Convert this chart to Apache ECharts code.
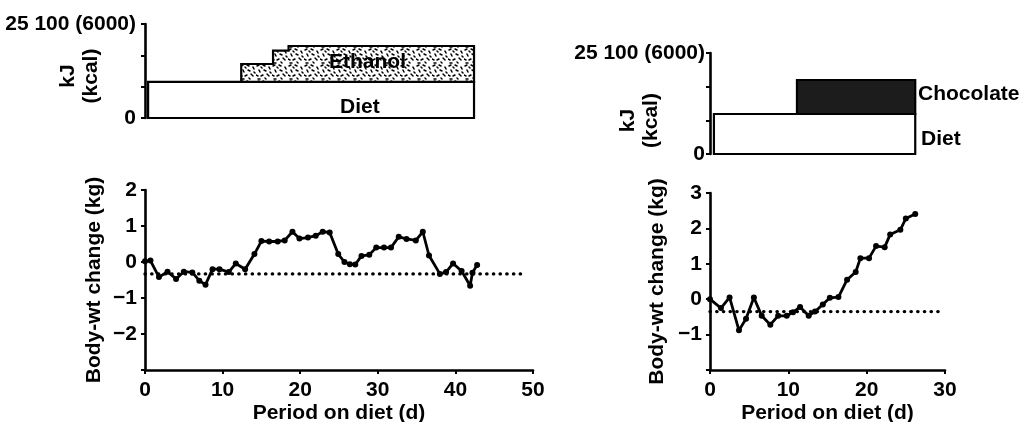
<!DOCTYPE html>
<html>
<head>
<meta charset="utf-8">
<script src="https://cdn.jsdelivr.net/npm/echarts@6/dist/echarts.min.js"></script>
<style>
html,body{margin:0;padding:0;background:#fff;}
#chart{width:1025px;height:422px;}
</style>
</head>
<body>
<div id="chart"></div>
<script>
// ---------- data ----------
// Left: ethanol experiment
const leftDietDays = [0.4, 42.4];            // diet box start/end (d)
const leftDietKcal = 2300;                    // diet energy (kcal)
const leftEthanolStepDays = [12.4, 16.5, 18.5];
const leftEthanolTopKcal = [3447, 4296, 4596];
const leftWeight = [
  [0, 0.02], [0.7, 0.04], [1.8, -0.42], [2.9, -0.27], [4.0, -0.47], [5.0, -0.27],
  [6.1, -0.29], [7.0, -0.52], [7.8, -0.63], [8.7, -0.2], [9.6, -0.2], [10.8, -0.28],
  [11.7, -0.04], [12.9, -0.2], [14.1, 0.22], [15.0, 0.58], [16.0, 0.57], [17.1, 0.57],
  [18.0, 0.6], [19.0, 0.84], [19.9, 0.65], [21.0, 0.68], [22.0, 0.73], [22.9, 0.84],
  [23.8, 0.82], [24.9, 0.22], [25.7, 0.0], [26.4, -0.06], [27.1, -0.07], [27.9, 0.17],
  [28.9, 0.2], [29.8, 0.4], [30.8, 0.4], [31.7, 0.4], [32.7, 0.7], [33.7, 0.64],
  [34.9, 0.6], [35.8, 0.84], [36.6, 0.18], [38.0, -0.33], [38.8, -0.28], [39.7, -0.04],
  [40.8, -0.25], [41.9, -0.66], [42.2, -0.3], [42.8, -0.08]
];
const leftBaseline = -0.33;
const leftBaselineDays = [0, 48.5];

// Right: chocolate experiment
const rightDietDays = [0.5, 26.2];
const rightDietKcal = 2376;
const rightChocStartDay = 11.1;
const rightChocTopKcal = 4396;
const rightWeight = [
  [0, 0.0], [1.4, -0.25], [2.5, 0.05], [3.7, -0.88], [4.6, -0.55], [5.6, 0.05],
  [6.6, -0.47], [7.7, -0.72], [8.7, -0.47], [9.8, -0.47], [10.6, -0.37], [11.5, -0.22],
  [12.6, -0.47], [13.4, -0.35], [14.4, -0.15], [15.3, 0.04], [16.4, 0.06], [17.5, 0.55],
  [18.6, 0.77], [19.2, 1.16], [20.3, 1.16], [21.2, 1.5], [22.3, 1.47], [23.0, 1.83],
  [24.3, 1.96], [25.0, 2.28], [26.2, 2.41]
];
const rightBaseline = -0.35;
const rightBaselineDays = [0, 29.7];

// axis / tick text
const energyTopLabel = '25 100 (6000)';
const energyMaxKcal = 6000;
const energyName = 'kJ\n(kcal)';
const weightName = 'Body-wt change (kg)';
const dayName = 'Period on diet (d)';

// ---------- styles ----------
const FONT = 'Liberation Sans';
const txt = {color: '#000', fontFamily: FONT, fontWeight: 'bold', fontSize: 21};

function makeSpeckle() {
  const c = document.createElement('canvas');
  c.width = 16; c.height = 16;
  const g = c.getContext('2d');
  g.fillStyle = '#fff'; g.fillRect(0, 0, 16, 16);
  g.strokeStyle = '#000'; g.lineWidth = 1.5; g.lineCap = 'round';
  const m = [[1,2,3,1],[7,1,9,2],[13,3,14,5],[3,6,4,8],[8,6,10,7],[0,11,2,12],
             [5,12,7,11],[11,10,13,12],[5,3,6,4],[14,8,15,9],[2,15,4,15],[9,14,10,15]];
  m.forEach(s => { g.beginPath(); g.moveTo(s[0], s[1]); g.lineTo(s[2], s[3]); g.stroke(); });
  return c;
}
const speckle = {image: makeSpeckle(), repeat: 'repeat'};

function polySeries(xi, yi, pts, fill) {
  return {
    type: 'custom', xAxisIndex: xi, yAxisIndex: yi, silent: true, z: 2,
    data: [[pts[0][0], pts[0][1]]],
    renderItem: (params, api) => ({
      type: 'polygon',
      shape: {points: pts.map(p => api.coord(p))},
      style: {fill: fill, stroke: '#000', lineWidth: 2.2}
    })
  };
}

// polygons from data
const leftDietPts = [[leftDietDays[0], 0], [leftDietDays[0], leftDietKcal],
                     [leftDietDays[1], leftDietKcal], [leftDietDays[1], 0]];
const leftEthPts = [[leftEthanolStepDays[0], leftDietKcal]];
leftEthanolStepDays.forEach((d, i) => {
  if (i > 0) leftEthPts.push([d, leftEthanolTopKcal[i - 1]]);
  leftEthPts.push([d, leftEthanolTopKcal[i]]);
});
leftEthPts.push([leftDietDays[1], leftEthanolTopKcal[leftEthanolTopKcal.length - 1]]);
leftEthPts.push([leftDietDays[1], leftDietKcal]);

const rightDietPts = [[rightDietDays[0], 0], [rightDietDays[0], rightDietKcal],
                      [rightDietDays[1], rightDietKcal], [rightDietDays[1], 0]];
const rightChocPts = [[rightChocStartDay, rightDietKcal], [rightChocStartDay, rightChocTopKcal],
                      [rightDietDays[1], rightChocTopKcal], [rightDietDays[1], rightDietKcal]];

const axisLineY = {show: true, onZero: false, lineStyle: {color: '#000', width: 2.6}};
const axisLineX = {show: true, onZero: false, lineStyle: {color: '#000', width: 2.6}};
const axisTick = {show: true, inside: false, length: 4, lineStyle: {color: '#000', width: 2}};

function energyY(gi, margin, pad) {
  return {
    type: 'value', gridIndex: gi, min: 0, max: energyMaxKcal, interval: 2000,
    axisLine: axisLineY, axisTick, splitLine: {show: false},
    axisLabel: Object.assign({}, txt, {margin: margin,
      formatter: v => v === 0 ? '0' : (v === energyMaxKcal ? energyTopLabel : '')}),
    name: energyName, nameLocation: 'middle', nameGap: pad[0], nameRotate: 90,
    nameMoveOverlap: false,
    nameTextStyle: Object.assign({}, txt, {lineHeight: 23, padding: [0, pad[1], 0, 0]})
  };
}
function weightY(gi, min, max, gap) {
  return {
    type: 'value', gridIndex: gi, min: min, max: max, interval: 1,
    axisLine: axisLineY, axisTick, splitLine: {show: false},
    axisLabel: Object.assign({}, txt, {margin: 8,
      formatter: v => v === min ? '' : (v < 0 ? '\u2212' + Math.abs(v) : String(v))}),
    name: weightName, nameLocation: 'middle', nameGap: gap, nameRotate: 90,
    nameMoveOverlap: false,
    nameTextStyle: txt
  };
}
function dayX(gi, max, show) {
  return {
    type: 'value', gridIndex: gi, min: 0, max: max, interval: 10, show: show,
    axisLine: axisLineX, axisTick, splitLine: {show: false},
    axisLabel: Object.assign({}, txt, {margin: 10}),
    name: show ? dayName : '', nameLocation: 'middle', nameGap: 33,
    nameMoveOverlap: false,
    nameTextStyle: txt
  };
}
function weightSeries(xi, yi, data) {
  return {
    type: 'line', xAxisIndex: xi, yAxisIndex: yi, data: data, z: 3,
    symbol: 'circle', symbolSize: 6, showSymbol: true,
    itemStyle: {color: '#000'}, lineStyle: {color: '#000', width: 2.8},
    silent: true
  };
}
function baselineSeries(xi, yi, days, v) {
  return {
    type: 'line', xAxisIndex: xi, yAxisIndex: yi, z: 2,
    data: days.map(d => [d, v]), showSymbol: false, silent: true,
    lineStyle: {color: '#000', width: 3.4, type: [0.3, 6.4], cap: 'round'}
  };
}

const gridBase = {outerBoundsMode: 'none', containLabel: false};
const option = {
  animation: false,
  backgroundColor: '#fff',
  grid: [
    Object.assign({left: 145, width: 388, top: 24, height: 94}, gridBase),
    Object.assign({left: 145, width: 388, top: 190, height: 180}, gridBase),
    Object.assign({left: 710, width: 235, top: 53, height: 101}, gridBase),
    Object.assign({left: 710, width: 235, top: 193, height: 177}, gridBase)
  ],
  xAxis: [dayX(0, 50, false), dayX(1, 50, true), dayX(2, 30, false), dayX(3, 30, true)],
  yAxis: [energyY(0, 9, [42, 10]), weightY(1, -3, 2, 40), energyY(2, 5, [47, 34]), weightY(3, -2, 3, 42)],
  series: [
    polySeries(0, 0, leftDietPts, '#fff'),
    polySeries(0, 0, leftEthPts, speckle),
    baselineSeries(1, 1, leftBaselineDays, leftBaseline),
    weightSeries(1, 1, leftWeight),
    polySeries(2, 2, rightDietPts, '#fff'),
    polySeries(2, 2, rightChocPts, '#1c1c1c'),
    baselineSeries(3, 3, rightBaselineDays, rightBaseline),
    weightSeries(3, 3, rightWeight)
  ],
  graphic: [
    {type: 'text', left: 329, top: 52, z: 10, style: Object.assign({}, txt, {text: 'Ethanol', fill: '#000'})},
    {type: 'text', left: 340, top: 97, z: 10, style: Object.assign({}, txt, {text: 'Diet', fill: '#000'})},
    {type: 'text', left: 918, top: 84, z: 10, style: Object.assign({}, txt, {text: 'Chocolate', fill: '#000'})},
    {type: 'text', left: 921, top: 129, z: 10, style: Object.assign({}, txt, {text: 'Diet', fill: '#000'})}
  ]
};

const chart = echarts.init(document.getElementById('chart'), null, {renderer: 'canvas'});
chart.setOption(option);
</script>
</body>
</html>
